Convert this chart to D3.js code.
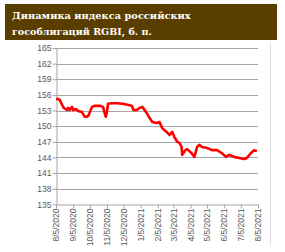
<!DOCTYPE html>
<html><head><meta charset="utf-8">
<script src="https://cdn.jsdelivr.net/npm/d3@7"></script>
<style>
html,body{margin:0;padding:0;background:#fff;}
svg{display:block;}
</style></head>
<body>
<svg id="c" width="285" height="252"></svg>
<script>
const titleLines = ["Динамика индекса российских", "гособлигаций RGBI, б. п."];
const yTicks = [135,138,141,144,147,150,153,156,159,162,165];
const xTickLabels = ["8/5/2020","9/5/2020","10/5/2020","11/5/2020","12/5/2020","1/5/2021","2/5/2021","3/5/2021","4/5/2021","5/5/2021","6/5/2021","7/5/2021","8/5/2021"];
const dates = ["2020-08-05","2020-08-09","2020-08-12","2020-08-16","2020-08-19","2020-08-25","2020-08-27","2020-08-30","2020-09-03","2020-09-05","2020-09-10","2020-09-14","2020-09-21","2020-09-23","2020-09-26","2020-09-30","2020-10-03","2020-10-09","2020-10-14","2020-10-23","2020-10-29","2020-11-01","2020-11-03","2020-11-05","2020-11-07","2020-11-14","2020-11-23","2020-12-03","2020-12-12","2020-12-20","2020-12-23","2020-12-29","2021-01-03","2021-01-08","2021-01-16","2021-01-21","2021-01-26","2021-02-03","2021-02-08","2021-02-13","2021-02-21","2021-02-26","2021-03-03","2021-03-07","2021-03-12","2021-03-16","2021-03-20","2021-03-21","2021-03-27","2021-03-30","2021-04-07","2021-04-12","2021-04-17","2021-04-21","2021-04-26","2021-05-05","2021-05-14","2021-05-23","2021-06-01","2021-06-08","2021-06-14","2021-06-23","2021-07-02","2021-07-11","2021-07-16","2021-07-23","2021-07-29","2021-08-03"];
const values = [155.2,155.2,155.0,154.1,153.5,153.1,153.5,153.1,153.7,153.1,153.3,152.9,152.7,152.3,151.8,151.8,152.1,153.7,153.9,153.9,153.7,152.5,151.8,152.7,154.3,154.4,154.4,154.3,154.1,153.9,153.1,153.1,153.5,153.7,152.5,151.6,150.8,150.6,150.8,149.6,148.9,148.3,148.9,147.9,147.0,146.8,146.0,144.5,145.4,145.6,144.8,144.1,146.0,146.4,146.0,145.8,145.4,145.4,144.8,144.1,144.5,144.1,143.9,143.7,143.9,144.8,145.4,145.2];

(function(){
const svg = d3.select("#c");
const parse = d3.timeParse("%Y-%m-%d");
const data = dates.map((d,i)=>({date: parse(d), value: values[i]}));
const xTickDates = xTickLabels.map(s => d3.timeParse("%-m/%-d/%Y")(s));

const mL = 56, mR = 258, mT = 48, mB = 204.3;
const x = d3.scaleTime().domain([xTickDates[0], xTickDates[xTickDates.length-1]]).range([mL, mR]);
const y = d3.scaleLinear().domain([135,165]).range([mB, mT]);

svg.append("rect").attr("x",5).attr("y",4).attr("width",272).attr("height",36).attr("fill","#5a3e00");
const tfont = "'DejaVu Serif', serif";
const targetW = [179, 140];
titleLines.forEach((t,i)=>{
  const el = svg.append("text").attr("x",12).attr("y", 19 + i*16)
    .attr("fill","#fff").attr("font-family",tfont).attr("font-weight","bold").attr("font-size",11).text(t);
  const w = el.node().getComputedTextLength();
  el.attr("font-size", 11*targetW[i]/w);
});

svg.append("line").attr("x1",270.5).attr("x2",270.5).attr("y1",43).attr("y2",245).attr("stroke","#d9d9d9");

svg.append("g").selectAll("line").data(yTicks.slice(1)).join("line")
  .attr("x1",mL).attr("x2",mR).attr("y1",d=>Math.round(y(d))+0.5).attr("y2",d=>Math.round(y(d))+0.5)
  .attr("stroke","#a6a6a6").attr("stroke-width",1);

const yAxis = svg.append("g").attr("transform",`translate(${mL+0.5},0)`)
  .call(d3.axisLeft(y).tickValues(yTicks).tickSize(4).tickSizeOuter(0));
yAxis.select(".domain").attr("stroke","#a6a6a6");
yAxis.selectAll(".tick line").attr("stroke","#a6a6a6");
yAxis.selectAll(".tick text").attr("fill","#595959").attr("font-family","'Liberation Sans', Arial, sans-serif").attr("font-size",8.5).attr("x",-5);

const xAxis = svg.append("g").attr("transform",`translate(0,${Math.round(mB)+0.5})`)
  .call(d3.axisBottom(x).tickValues(xTickDates).tickFormat(d3.timeFormat("%-m/%-d/%Y")).tickSize(4).tickSizeOuter(0));
xAxis.select(".domain").attr("stroke","#a6a6a6");
xAxis.selectAll(".tick line").attr("stroke","#a6a6a6");
xAxis.selectAll(".tick text").attr("fill","#595959").attr("font-family","'Liberation Sans', Arial, sans-serif").attr("font-size",8.5)
  .attr("transform","rotate(-90)").attr("text-anchor","end").attr("x",-4).attr("y",0).attr("dy","0.32em");

svg.append("path").datum(data)
  .attr("fill","none").attr("stroke","#ff0000").attr("stroke-width",2.6).attr("stroke-linejoin","round")
  .attr("d", d3.line().x(d=>x(d.date)).y(d=>y(d.value)));
})();
</script>
</body></html>
